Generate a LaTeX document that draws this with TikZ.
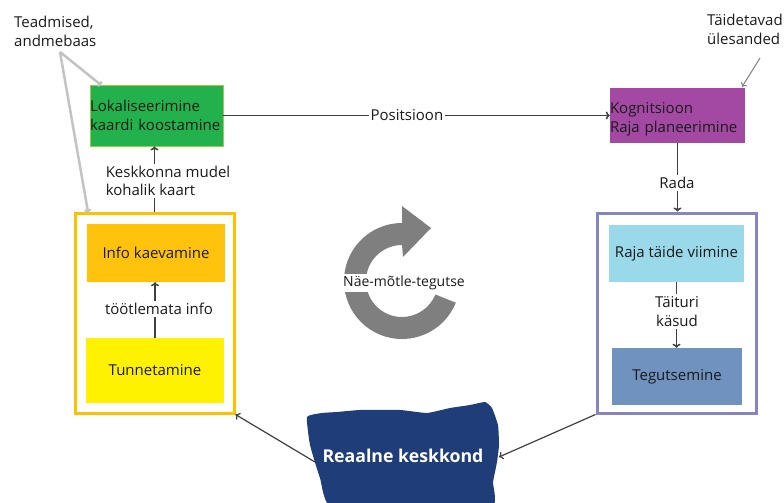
\documentclass[tikz,border=0pt]{standalone}
\usepackage{fontspec}
\setmainfont{Open Sans}
\usetikzlibrary{arrows.meta}
\definecolor{boxgreen}{HTML}{22B14C}
\definecolor{boxgreenb}{HTML}{9BCF3A}
\definecolor{boxpurple}{HTML}{A349A4}
\definecolor{infoc}{HTML}{FFC30E}
\definecolor{tunc}{HTML}{FFF200}
\definecolor{yborder}{HTML}{FFC000}
\definecolor{pborder}{HTML}{8585C6}
\definecolor{rajac}{HTML}{99D9EA}
\definecolor{tegc}{HTML}{7092BE}
\definecolor{navy}{HTML}{1F3E79}
\definecolor{linec}{HTML}{404040}
\definecolor{lgray}{HTML}{C3C3C3}
\definecolor{cgray}{HTML}{7F7F7F}
\definecolor{txt}{HTML}{1A1A1A}
\newcommand{\lowtwo}[3]{\raisebox{-#1}[\height][\depth]{\begin{tabular}{@{}l@{}}#2\\#3\end{tabular}}}
\tikzset{
  lbl/.style={font=\fontsize{15}{18.5}\selectfont, text=txt, inner sep=1pt},
  wlbl/.style={lbl, fill=white, inner sep=2pt},
  fbox/.style={lbl, inner sep=0pt, align=center},
  obox/.style={draw, line width=3pt, fill=white, inner sep=0pt},
  conn/.style={draw=linec, line width=1.5pt, -{To[length=4pt,width=8pt]}},
  garrow/.style={draw=lgray, line width=2.5pt, -{To[length=3pt,width=7pt]}},
  tarrow/.style={draw=gray, line width=1pt, -{To[length=4pt,width=7pt]}},
}
\begin{document}
\begin{tikzpicture}[x=1pt,y=-1pt]
\useasboundingbox (0,0) rectangle (784,503);
\clip (0,0) rectangle (784,503);
% outer boxes
\node[obox, draw=yborder, minimum width=159pt, minimum height=200pt] (lo) at (154.5,313) {};
\node[obox, draw=pborder, minimum width=159pt, minimum height=200pt] (ro) at (676.5,313) {};
% inner boxes
\node[fbox, fill=boxgreen, draw=boxgreenb, line width=0.8pt, text width=133pt, minimum height=61pt, align=left] (green) at (156.5,115.5) {\lowtwo{2pt}{Lokaliseerimine}{kaardi koostamine}};
\node[fbox, fill=boxpurple, text width=135pt, minimum height=55pt, align=left] (purple) at (677.5,115.5) {\lowtwo{4pt}{Kognitsioon}{Raja planeerimine}};
\node[fbox, fill=infoc, minimum width=138pt, minimum height=58pt] (info) at (156,253) {Info kaevamine};
\node[fbox, fill=tunc, minimum width=138pt, minimum height=65pt] (tun) at (155,370.5) {Tunnetamine};
\node[fbox, fill=rajac, minimum width=135pt, minimum height=57pt] (raja) at (676.5,253.5) {Raja täide viimine};
\node[fbox, fill=tegc, minimum width=130pt, minimum height=57pt] (teg) at (677,376.5) {Tegutsemine};
% connectors with labels
\draw[conn] (green.east) -- node[wlbl, pos=0.475] (pos) {Positsioon} (purple.west);
\draw[conn] (lo.north) -- (lo.north |- green.south);
\node[wlbl, align=left] (kk) at (168,181) {Keskkonna mudel\\kohalik kaart};
\draw[conn] (tun.north) -- (tun.north |- info.south);
\node[wlbl] (tl) at (159,309) {töötlemata info};
\draw[conn] (purple.south) -- (purple.south |- ro.north);
\node[wlbl] (rada) at (677,183) {Rada};
\draw[conn] (raja.south) -- (raja.south |- teg.north);
\node[wlbl, align=center, inner ysep=3pt] (tk) at (677,311.5) {Täituri\\käsud};
% knowledge labels
\node[lbl, align=left, anchor=west] (kn) at (13,31.5) {Teadmised,\\andmebaas};
\coordinate (kns) at (60,52);
\coordinate (gtip) at (101,85);
\coordinate (ytip) at (88,212);
\draw[garrow] (kns) -- (gtip);
\draw[garrow] (kns) -- (ytip);
\node[lbl, align=left, anchor=west] (td) at (706,29.5) {Täidetavad\\ülesanded};
\coordinate (tds) at (760,58);
\coordinate (ptip) at (742,87);
\draw[tarrow] (tds) -- (ptip);
% circular arrow
\fill[cgray] (402,281) ++(22:58) arc[start angle=22, end angle=270, radius=58]
  -- (402,206) -- (431,228) -- (403,257) -- (402,245)
  arc[start angle=270, end angle=22, radius=36] -- cycle;
\node[wlbl, inner xsep=1pt, font=\fontsize{14}{17}\selectfont] (cyc) at (404,283) {Näe-mõtle-tegutse};
% real environment blob
\fill[navy] plot[smooth cycle, tension=0.25] coordinates {(307,417) (322,413) (337,412) (360,410) (400,410) (427,413) (450,408) (470,405) (485,402) (492,408) (498,425) (499,445) (497,462) (493,482) (489,510) (335,510) (320,478) (310,445)};
\node[font=\fontsize{17.7}{20}\selectfont\bfseries, text=white] (env) at (403,456) {Reaalne keskkond};
\coordinate (blobL) at (315,462);
\coordinate (blobR) at (499,457);
\draw[conn, line width=1.2pt] (blobL) -- (lo.south east);
\draw[conn, line width=1.2pt] (ro.south west) -- (blobR);
\end{tikzpicture}
\end{document}
